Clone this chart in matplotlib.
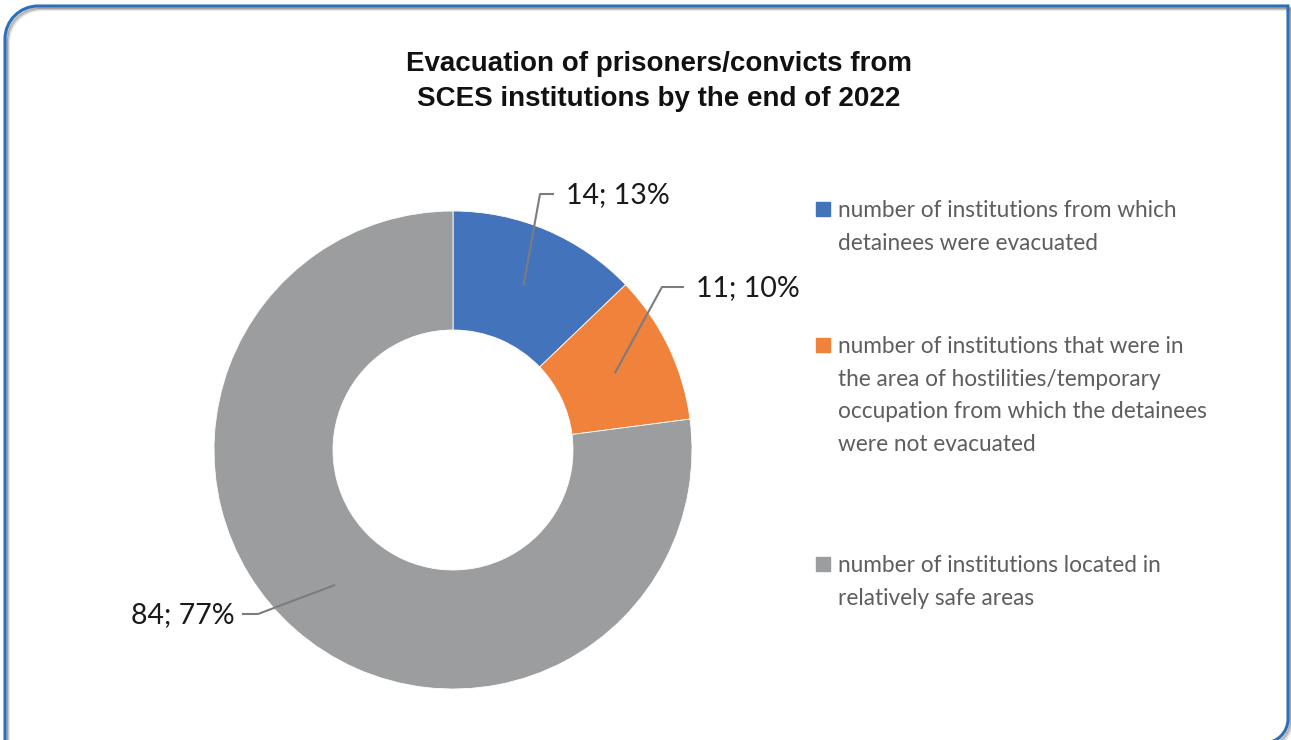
import numpy as np
import matplotlib.pyplot as plt
from matplotlib.path import Path
from matplotlib.patches import PathPatch, Rectangle

# data
categories = [
    "number of institutions from which\ndetainees were evacuated",
    "number of institutions that were in\nthe area of hostilities/temporary\noccupation from which the detainees\nwere not evacuated",
    "number of institutions located in\nrelatively safe areas",
]
counts = [14, 11, 84]
percents = [13, 10, 77]
colors = ["#4373BA", "#F0823C", "#9B9D9E"]

W, H = 1291, 740
fig = plt.figure(figsize=(W / 100, H / 100), dpi=100)
ax = fig.add_axes([0, 0, 1, 1])

# frame with rounded corners (pixel coords, y up)
def frame_path(dx=0, dy=0):
    l, r, t, b = 5 + dx, 1288 + dx, 734 + dy, -3 + dy
    r1, r2 = 33, 24
    k = 0.5523
    verts = [(l, b), (l, t - r1),
             (l, t - r1 + k * r1), (l + r1 - k * r1, t), (l + r1, t),
             (r, t), (r, b + r2),
             (r, b + r2 - k * r2), (r - r2 + k * r2, b), (r - r2, b),
             (l, b)]
    codes = [Path.MOVETO, Path.LINETO,
             Path.CURVE4, Path.CURVE4, Path.CURVE4,
             Path.LINETO, Path.LINETO,
             Path.CURVE4, Path.CURVE4, Path.CURVE4,
             Path.LINETO]
    return Path(verts, codes)

for i, a in enumerate([0.25, 0.15, 0.08]):
    ax.add_patch(PathPatch(frame_path(2 + i, -2 - i), fill=False,
                           ec="black", alpha=a, lw=1.5))
ax.add_patch(PathPatch(frame_path(), fill=False, ec="#2B6FB8", lw=2.2))

# title
title_lines = ["Evacuation of prisoners/convicts from",
               "SCES institutions by the end of 2022"]
for y, line in zip([64, 99], title_lines):
    ax.text(659, 740 - y, line, ha="center", va="center", fontsize=20,
            fontweight="bold", family="Liberation Sans", color="#111111")

# donut
cx, cy, R = 453, 740 - 450, 239
wedges, _ = ax.pie(counts, colors=colors, startangle=90, counterclock=False,
                   center=(cx, cy), radius=R, frame=True,
                   wedgeprops=dict(width=R - 120, edgecolor="white", linewidth=0.6))
ax.set_xlim(0, W)
ax.set_ylim(0, H)
ax.set_aspect("equal")
ax.axis("off")

# data labels with leader lines
elbows = [((540, 740 - 194), (553, 740 - 194), "left"),
          ((662, 740 - 287), (683, 740 - 287), "left"),
          ((258, 740 - 614), (243, 740 - 614), "right")]
for w, c, p, (e1, e2, ha) in zip(wedges, counts, percents, elbows):
    ang = np.deg2rad((w.theta1 + w.theta2) / 2)
    sx, sy = cx + 180 * np.cos(ang), cy + 180 * np.sin(ang)
    ax.plot([sx, e1[0], e2[0]], [sy, e1[1], e2[1]], color="#7A7C7E", lw=1.5)
    tx = e2[0] + (13 if ha == "left" else -8)
    ax.text(tx, e2[1] - 1, f"{c}; {p}%", ha=ha, va="center",
            fontsize=20.5, family="Lato", color="#1A1A1A")

# legend
legend_y = [209, 345, 564]
for lab, col, y in zip(categories, colors, legend_y):
    ax.add_patch(Rectangle((816, 740 - y - 7), 14, 14, color=col))
    ax.text(838, 740 - y + 9, lab, ha="left", va="top", fontsize=16.3,
            family="Lato", color="#5E5E5E", linespacing=1.68)

fig.savefig("out.png", dpi=100)
